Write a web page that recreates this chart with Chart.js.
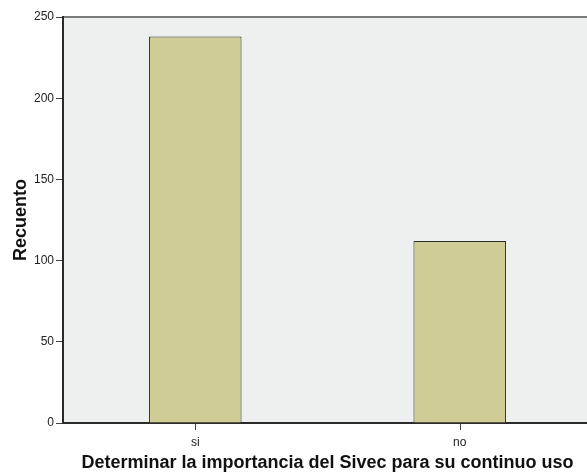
<!DOCTYPE html>
<html>
<head>
<meta charset="utf-8">
<script src="https://cdn.jsdelivr.net/npm/chart.js@4"></script>
<style>
  html, body { margin: 0; padding: 0; background: #fff; }
  #wrap { width: 587px; height: 472px; overflow: hidden; }
</style>
</head>
<body>
<div id="wrap"><canvas id="grafico1" width="600" height="472"></canvas></div>
<script>
"use strict";

// datos
const categorias = ["si", "no"];
const recuento = [238, 112];
const ticksY = [0, 50, 100, 150, 200, 250];

const fondoArea = {
  id: "fondoArea",
  beforeDraw(chart) {
    const { ctx, chartArea: a } = chart;
    ctx.save();
    ctx.fillStyle = "#eef0ef";
    ctx.fillRect(a.left, a.top, a.right - a.left, a.bottom - a.top);
    ctx.strokeStyle = "#7a7a7a";
    ctx.lineWidth = 2;
    ctx.beginPath();
    ctx.moveTo(a.left, a.top);
    ctx.lineTo(a.right, a.top);
    ctx.stroke();
    ctx.restore();
  },
  afterDraw(chart) {
    // marcas del eje x en el centro de cada categoria
    const { ctx, chartArea: a } = chart;
    const x = chart.scales.x;
    ctx.save();
    ctx.strokeStyle = "#444";
    ctx.lineWidth = 1;
    x.ticks.forEach((t, i) => {
      const px = Math.round(x.getPixelForTick(i)) + 0.5;
      ctx.beginPath();
      ctx.moveTo(px, a.bottom + 1);
      ctx.lineTo(px, a.bottom + 7);
      ctx.stroke();
    });
    ctx.restore();
  }
};

const ctx = document.getElementById("grafico1");

let chart1 = new Chart(ctx, {
  type: "bar",
  data: {
    labels: categorias,
    datasets: [
      {
        label: "Recuento",
        data: recuento,
        backgroundColor: "#cfcc96",
        borderColor: "#2b2b2b",
        borderWidth: 1,
        barPercentage: 0.35,
        categoryPercentage: 1,
      },
    ],
  },
  options: {
    responsive: false,
    animation: false,
    layout: { padding: { top: 17, right: 8, left: 0, bottom: 0 } },
    plugins: {
      legend: { display: false },
      tooltip: { enabled: false },
    },
    scales: {
      x: {
        grid: { drawOnChartArea: false, tickLength: 6, color: "rgba(0,0,0,0)" },
        border: { color: "#2b2b2b", width: 2 },
        ticks: {
          color: "#222",
          font: { family: "Liberation Sans, Arial", size: 12 },
          padding: 6,
        },
        title: {
          display: true,
          text: "Determinar la importancia del Sivec para su continuo uso",
          color: "#111",
          font: { family: "Liberation Sans, Arial", size: 18, weight: "bold" },
          padding: { top: 0, bottom: -2 },
        },
        afterFit(scale) { scale.height = 49; },
      },
      y: {
        min: 0,
        max: 250,
        afterBuildTicks(scale) { scale.ticks = ticksY.map(v => ({ value: v })); },
        grid: { drawOnChartArea: false, tickLength: 7, color: "#444" },
        border: { color: "#2b2b2b", width: 2 },
        ticks: {
          color: "#222",
          font: { family: "Liberation Sans, Arial", size: 12 },
          padding: 2,
        },
        title: {
          display: true,
          text: "Recuento",
          color: "#111",
          font: { family: "Liberation Sans, Arial", size: 18, weight: "bold" },
          padding: { top: 10, bottom: 0 },
        },
        afterFit(scale) { scale.width = 63; },
      },
    },
  },
  plugins: [fondoArea],
});
</script>
</body>
</html>
